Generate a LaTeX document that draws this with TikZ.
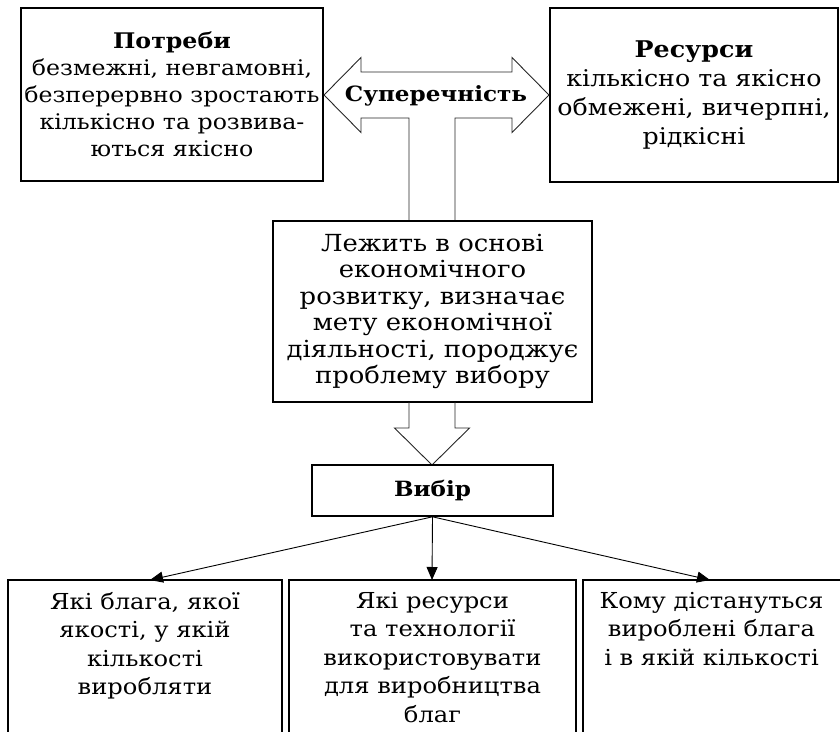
\documentclass[tikz,border=0pt]{standalone}
\usepackage{fontspec}
\setmainfont{DejaVu Serif}[FakeStretch=1.1]
\usetikzlibrary{arrows.meta}
\begin{document}
\begin{tikzpicture}[x=1pt,y=-1pt,
  box/.style={draw, line width=1.6pt, align=center, inner sep=0pt},
  big/.style={font=\fontsize{21.5}{27}\selectfont},
  frame/.style={draw, line width=1.6pt, line join=miter},
  hollow/.style={draw=black!85, line width=0.9pt, line join=miter},
  conn/.style={draw, line width=0.9pt, -{Triangle[length=13pt,width=11pt]}},
  txt/.style={align=center, inner sep=0pt, font=\fontsize{22}{28.5}\selectfont}
]
\useasboundingbox (0,0) rectangle (840,731);

% top boxes
\node[box, big, minimum width=302pt, minimum height=173pt] (need) at (172,94.5)
  {\textbf{Потреби}\\безмежні, невгамовні,\\безперервно зростають\\кількісно та розвива-\\ються якісно};
\node[box, font=\fontsize{23}{29}\selectfont, minimum width=288pt, minimum height=174pt] (res) at (694,95)
  {\textbf{Ресурси}\\кількісно та якісно\\обмежені, вичерпні,\\рідкісні};

% contradiction double arrow with stem
\draw[hollow] (409,221) -- (409,118) -- (361,118) -- (361,132.5) -- (324,95)
  -- (361,57.5) -- (361,72) -- (512,72) -- (512,57.5) -- (549,95)
  -- (512,132.5) -- (512,118) -- (455,118) -- (455,221);
\node[font=\fontsize{21}{27}\selectfont\bfseries, inner sep=0pt] (contr) at (436,96) {Суперечність};

% middle box
\node[box, font=\fontsize{23.5}{26.5}\selectfont, minimum width=319pt, minimum height=181pt] (basis) at (432.5,311.5)
  {Лежить в основі\\економічного\\розвитку, визначає\\мету економічної\\діяльності, породжує\\проблему вибору};

% hollow down arrow
\draw[hollow] (409,402) -- (409,428) -- (394.5,428) -- (432,465) -- (469.5,428) -- (455,428) -- (455,402);

% choice box
\node[box, font=\fontsize{21}{27}\selectfont, minimum width=241pt, minimum height=51pt] (choice) at (432.5,490.5) {\textbf{Вибір}};

% bottom boxes (open at bottom)
\coordinate (t1) at (150,580);
\coordinate (t2) at (432,580);
\coordinate (t3) at (710,580);
\draw[frame] (8,745) |- (282,580) -- (282,745);
\draw[frame] (289,745) |- (576,580) -- (576,745);
\draw[frame] (583,745) |- (842,580);

\node[txt, anchor=north] (q1) at (145,592)
  {Які блага, якої\\якості, у якій\\кількості\\виробляти};
\node[txt, anchor=north] (q2) at (432.5,592)
  {Які ресурси\\та технології\\використовувати\\для виробництва\\благ};
\node[txt, anchor=north] (q3) at (711.5,592)
  {Кому дістануться\\вироблені блага\\і в якій кількості};

\draw[conn] (choice.south) -- (t1);
\draw[conn] (choice.south) -- (t2);
\draw[conn] (choice.south) -- (t3);
\end{tikzpicture}
\end{document}
